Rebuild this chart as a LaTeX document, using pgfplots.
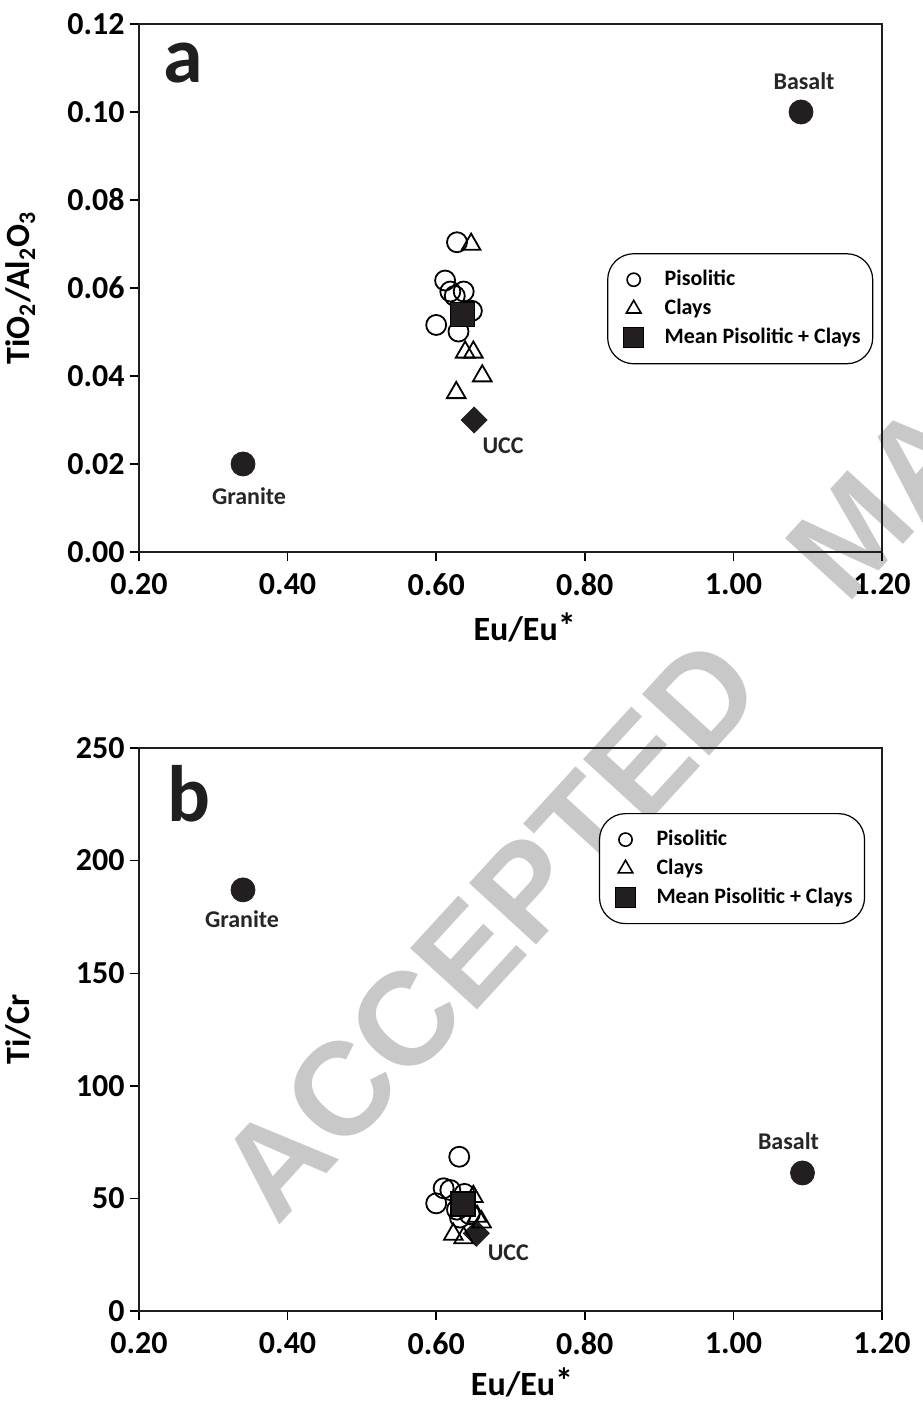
\documentclass[border=0pt]{standalone}
\usepackage{fontspec}
\setmainfont{Carlito}
\newfontfamily\wmfont{Liberation Sans}
\usepackage{pgfplots}
\pgfplotsset{compat=1.18}
\definecolor{dk}{RGB}{35,31,32}
\definecolor{wm}{RGB}{200,200,200}
\tikzset{lab/.style={font=\bfseries\fontsize{12}{12}\selectfont, text=black!85},
  axlab/.style={font=\bfseries\fontsize{17}{17}\selectfont, text=black}}
\newcommand{\bigast}{\raisebox{0.05em}{\fontsize{18}{18}\selectfont *}}

\pgfplotsset{
  panel/.style={
    scale only axis, width=371.5pt,
    xmin=0.2, xmax=1.2,
    xtick={0.2,0.4,0.6,0.8,1.0,1.2},
    clip=false,
    axis line style={line width=1pt, black!88},
    tick style={line width=0.7pt, black},
    tick align=outside, major tick length=4.5pt,
    xtick pos=left, ytick pos=left,
    /pgf/number format/assume math mode=true,
    tick label style={font=\bfseries\fontsize{16}{16}\selectfont},
    xticklabel style={inner ysep=6pt, /pgf/number format/.cd, fixed, fixed zerofill, precision=2},
    yticklabel style={inner xsep=2.5pt},
    legend image code/.code={\draw[##1] plot coordinates {(0pt,0pt)};
      \pgfpathrectangle{\pgfpoint{-7pt}{-5pt}}{\pgfpoint{14pt}{10pt}}\pgfusepath{use as bounding box}},
    legend style={anchor=north west, draw=black, line width=0.6pt, rounded corners=13pt,
      inner xsep=6pt, inner ysep=8pt, row sep=4.5pt,
      font=\bfseries\fontsize{11}{13}\selectfont,
      nodes={inner sep=0pt}, cells={anchor=west},
      /tikz/every odd column/.style={column sep=8.5pt}},
  },
  pis/.style={only marks, mark=o, mark size=5pt, mark options={line width=0.9pt, black}},
  cla/.style={only marks, mark=triangle, mark size=5.4pt, mark options={line width=0.9pt, black}},
  mea/.style={only marks, mark=square*, mark size=6pt, mark options={fill=dk, draw=black, line width=0.6pt}},
  ucc/.style={only marks, mark=square*, mark size=4.6pt, mark options={rotate=45, fill=dk, draw=dk}},
  ref/.style={only marks, mark=*, mark size=6pt, mark options={fill=dk, draw=dk}},
}

\begin{document}
\begin{tikzpicture}
\useasboundingbox (-69.5pt,-46.5pt) rectangle (391.5pt,655.5pt);
\node[rotate=47.5, anchor=base west, inner sep=0pt, text=wm,
      font=\wmfont\bfseries\fontsize{66}{66}\selectfont] at (69.3pt,41.8pt) {ACCEPTED \hspace{0.6em}MANUSCRIPT};

% ---------------- panel a ----------------
\begin{axis}[panel, at={(0pt,379.5pt)}, anchor=south west, height=264pt,
  ymin=0, ymax=0.12, ytick={0,0.02,0.04,0.06,0.08,0.10,0.12},
  yticklabel style={/pgf/number format/.cd, fixed, fixed zerofill, precision=2},
  xlabel={Eu/Eu\bigast}, ylabel={TiO\textsubscript{2}/Al\textsubscript{2}O\textsubscript{3}},
  every axis x label/.style={at={(axis description cs:0.519,-0.1667)}, anchor=base, axlab},
  every axis y label/.style={at={(axis description cs:-0.1467,0.5)}, rotate=90, anchor=base, axlab},
  legend style={at={(0.630,0.566)}},
]
\addlegendimage{only marks, mark=o, mark size=3.3pt, mark options={line width=0.8pt, black}}
\addlegendentry{Pisolitic}
\addlegendimage{only marks, mark=triangle, mark size=4.2pt, mark options={line width=0.8pt, black}}
\addlegendentry{Clays}
\addlegendimage{only marks, mark=square*, mark size=5pt, mark options={fill=dk, draw=black}}
\addlegendentry{Mean Pisolitic + Clays}

\addplot[ref, forget plot] coordinates {(0.340,0.020) (1.091,0.100)};
\addplot[ucc, forget plot] coordinates {(0.651,0.030)};
\addplot[pis, forget plot] coordinates {
 (0.628,0.0704) (0.612,0.0617) (0.619,0.0592) (0.625,0.0582)
 (0.637,0.0592) (0.648,0.0548) (0.600,0.0516) (0.630,0.0501)};
\addplot[cla, forget plot] coordinates {
 (0.647,0.0699) (0.639,0.0454) (0.650,0.0454) (0.662,0.0400) (0.627,0.0362)};
\addplot[mea, forget plot] coordinates {(0.635,0.0540)};

\node[anchor=base west, inner sep=0pt, font=\bfseries\fontsize{40}{40}\selectfont, text=black!88]
  at (rel axis cs:0.0323,0.890) {a};
\node[lab] at (axis cs:1.091,0.100) [xshift=1.5pt, yshift=15.5pt] {Basalt};
\node[lab] at (axis cs:0.340,0.020) [xshift=3pt, yshift=-16pt] {Granite};
\node[lab] at (axis cs:0.651,0.030) [xshift=14.5pt, yshift=-13pt] {UCC};
\end{axis}

% ---------------- panel b ----------------
\begin{axis}[panel, at={(0pt,0pt)}, anchor=south west, height=281.5pt,
  ymin=0, ymax=250, ytick={0,50,100,150,200,250},
  xlabel={Eu/Eu\bigast}, ylabel={Ti/Cr},
  every axis x label/.style={at={(axis description cs:0.5155,-0.1492)}, anchor=base, axlab},
  every axis y label/.style={at={(axis description cs:-0.1467,0.5)}, rotate=90, anchor=base, axlab},
  legend style={at={(0.619,0.8845)}},
]
\addlegendimage{only marks, mark=o, mark size=3.3pt, mark options={line width=0.8pt, black}}
\addlegendentry{Pisolitic}
\addlegendimage{only marks, mark=triangle, mark size=4.2pt, mark options={line width=0.8pt, black}}
\addlegendentry{Clays}
\addlegendimage{only marks, mark=square*, mark size=5pt, mark options={fill=dk, draw=black}}
\addlegendentry{Mean Pisolitic + Clays}

\addplot[ref, forget plot] coordinates {(0.340,187) (1.093,61.3)};
\addplot[ucc, forget plot] coordinates {(0.654,34.5)};
\addplot[pis, forget plot] coordinates {
 (0.631,68.5) (0.610,54.5) (0.619,53.7) (0.600,47.8)
 (0.638,52.0) (0.632,41.5) (0.628,45.0) (0.645,43.0)};
\addplot[cla, forget plot] coordinates {
 (0.650,50.8) (0.661,39.5) (0.623,34.0) (0.637,32.5) (0.655,42.0)};
\addplot[mea, forget plot] coordinates {(0.636,47.5)};

\node[anchor=base west, inner sep=0pt, font=\bfseries\fontsize{40}{40}\selectfont, text=black!88]
  at (rel axis cs:0.0377,0.8686) {b};
\node[lab] at (axis cs:1.093,61.3) [xshift=-7pt, yshift=16pt] {Basalt};
\node[lab] at (axis cs:0.340,187) [xshift=-0.5pt, yshift=-14.5pt] {Granite};
\node[lab] at (axis cs:0.654,34.5) [xshift=16pt, yshift=-9.5pt] {UCC};
\end{axis}
\end{tikzpicture}
\end{document}
